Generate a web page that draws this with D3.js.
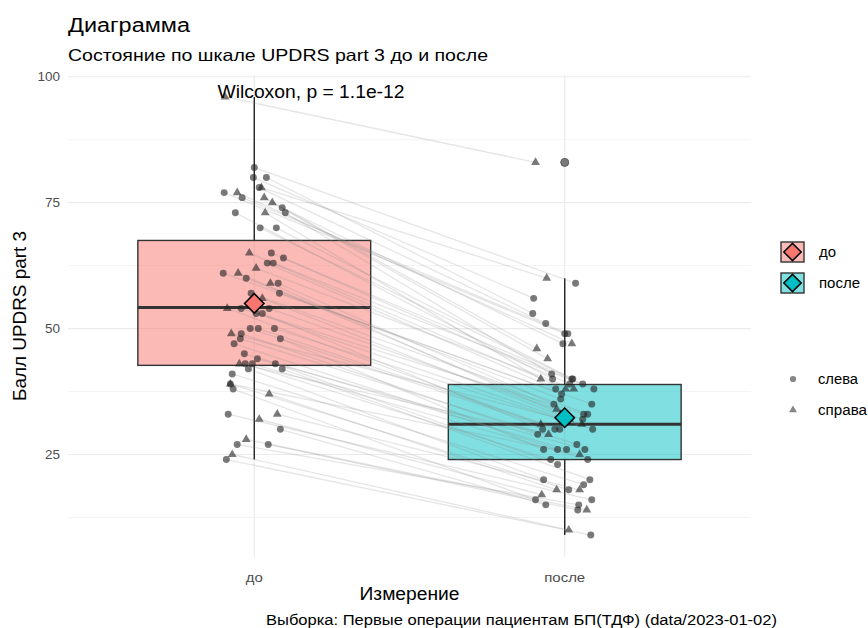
<!DOCTYPE html>
<html>
<head>
<meta charset="utf-8">
<script src="https://cdn.jsdelivr.net/npm/d3@7"></script>
<style>
  body { margin: 0; background: #fff; }
  text { font-family: "Liberation Sans", Arial, Helvetica, sans-serif; }
</style>
</head>
<body>
<div id="chart"></div>
<script>
// ---------- Data ----------
const measures = ["до", "после"];
const sideNames = ["слева", "справа"];
const fillColors = ["#F8766D", "#00BFC4"];

// one entry per patient: side, score before / after, observed jitter (category units)
const side = [
  "справа","справа","справа","справа","справа","справа","справа","справа","справа","справа",
  "справа","справа","справа","справа","справа","справа","справа","справа","справа","справа",
  "слева","слева","слева","слева","слева","слева","слева","слева","слева","слева",
  "слева","слева","слева","слева","слева","слева","слева","слева","слева","слева",
  "слева","слева","слева","слева","слева","слева","слева","слева","слева","слева",
  "слева","слева","слева","слева","слева","слева","слева","слева","слева","слева",
  "слева","слева","слева","слева","слева","слева"
];
const scoreBefore = [
  96, 78, 77, 76, 75, 73, 65, 62, 61, 59, 56, 54, 49, 43, 39, 37, 33, 32, 28, 25,
  82, 80, 80, 78, 77, 76, 74, 73, 73, 70, 70, 65, 64, 63, 63, 61, 60, 59, 57, 57,
  54, 54, 53, 53, 50, 50, 50, 49, 48, 48, 47, 45, 44, 43, 43, 43, 42, 42, 41, 39,
  38, 33, 30, 27, 27, 24
];
const scoreAfter = [
  83, 60, 47, 46, 44, 40, 38, 38, 34, 33, 32, 31, 31, 29, 25, 18, 18, 17, 14, 10,
  59, 56, 53, 51, 49, 49, 47, 41, 40, 40, 40, 39, 39, 38, 38, 37, 36, 35, 35, 33,
  33, 32, 32, 30, 30, 30, 30, 29, 27, 26, 26, 26, 26, 24, 24, 23, 20, 20, 19, 18,
  16, 16, 15, 15, 14, 9
];
const jitterBefore = [
  -0.094, 0.023, -0.055, 0.032, 0.058, 0.035, -0.016, 0.006, -0.052, 0.052,
  0.026, -0.087, -0.074, -0.048, -0.077, 0.048, 0.074, 0.016, -0.026, -0.071,
  0.000, -0.003, 0.039, 0.016, -0.097, -0.039, 0.090, 0.100, -0.061, 0.019,
  0.071, 0.055, 0.094, 0.042, 0.061, -0.100, -0.026, 0.077, 0.081, -0.010,
  -0.042, 0.048, 0.006, 0.026, -0.013, 0.013, 0.065, -0.042, -0.045, 0.084,
  -0.065, -0.032, 0.010, -0.029, -0.006, 0.068, -0.019, 0.090, -0.071, -0.077,
  -0.068, -0.084, 0.084, -0.055, 0.045, -0.090
];
const jitterAfter = [
  -0.094, -0.058, 0.023, -0.090, -0.055, -0.077, 0.003, 0.029, -0.026, -0.013,
  0.016, -0.077, 0.055, -0.052, 0.048, -0.026, 0.048, -0.074, 0.071, 0.013,
  0.035, -0.100, -0.103, -0.061, 0.000, 0.010, -0.006, -0.042, -0.039, 0.023,
  0.026, 0.058, 0.016, -0.029, 0.094, -0.010, -0.013, -0.035, 0.087, 0.074,
  0.061, 0.058, 0.003, -0.071, -0.032, -0.016, 0.090, -0.087, 0.039, -0.068,
  -0.023, 0.006, 0.065, -0.045, 0.074, -0.023, -0.068, 0.081, 0.061, 0.013,
  -0.094, 0.087, -0.061, 0.045, 0.042, 0.084
];

// box statistics
const boxLow    = [24, 9];
const boxQ1     = [42.7, 24];
const boxMedian = [54.2, 31];
const boxQ3     = [67.5, 38.9];
const boxHigh   = [96, 60];
const boxMean   = [55, 32.3];
const outliers  = [[], [83]];

const yTicks = [25, 50, 75, 100];
const yMinor = [12.5, 37.5, 62.5, 87.5];

// ---------- Layout ----------
const width = 868, height = 628;
const panel = { left: 68, right: 751, top: 75, bottom: 557 };

// the reference font sets Cyrillic wider than Liberation Sans: stretch to its widths
const stretch = (sel, len) => sel.attr("textLength", len).attr("lengthAdjust", "spacingAndGlyphs");
const cyrWidth = { "до": 17, "после": 41, "слева": 40, "справа": 49 };

const svg = d3.select("#chart").append("svg")
  .attr("width", width)
  .attr("height", height);

const x = d3.scalePoint()
  .domain(measures)
  .range([panel.left, panel.right])
  .padding(0.6);
const step = x.step();

const y = d3.scaleLinear()
  .domain([4.65, 100.35])
  .range([panel.bottom, panel.top]);

const fill = d3.scaleOrdinal().domain(measures).range(fillColors);
const shape = d3.scaleOrdinal().domain(sideNames).range([d3.symbolCircle, d3.symbolTriangle]);
const shapeSize = d3.scaleOrdinal().domain(sideNames).range([38, 34]);

// ---------- Grid ----------
const grid = svg.append("g");
grid.selectAll(".minor").data(yMinor).enter().append("line")
  .attr("x1", panel.left).attr("x2", panel.right)
  .attr("y1", d => y(d)).attr("y2", d => y(d))
  .attr("stroke", "#ebebeb").attr("stroke-width", 0.6);
grid.selectAll(".major").data(yTicks).enter().append("line")
  .attr("x1", panel.left).attr("x2", panel.right)
  .attr("y1", d => y(d)).attr("y2", d => y(d))
  .attr("stroke", "#ebebeb").attr("stroke-width", 1.2);
grid.selectAll(".vmajor").data(measures).enter().append("line")
  .attr("x1", d => x(d)).attr("x2", d => x(d))
  .attr("y1", panel.top).attr("y2", panel.bottom)
  .attr("stroke", "#ebebeb").attr("stroke-width", 1.2);

// ---------- Boxplots ----------
const boxW = step * 0.75;
const boxes = svg.append("g");
measures.forEach((m, i) => {
  const cx = x(m);
  const g = boxes.append("g");
  g.append("line")
    .attr("x1", cx).attr("x2", cx)
    .attr("y1", y(boxHigh[i])).attr("y2", y(boxQ3[i]))
    .attr("stroke", "#222").attr("stroke-width", 1.4);
  g.append("line")
    .attr("x1", cx).attr("x2", cx)
    .attr("y1", y(boxQ1[i])).attr("y2", y(boxLow[i]))
    .attr("stroke", "#222").attr("stroke-width", 1.4);
  g.append("rect")
    .attr("x", cx - boxW / 2).attr("width", boxW)
    .attr("y", y(boxQ3[i])).attr("height", y(boxQ1[i]) - y(boxQ3[i]))
    .attr("fill", fill(m)).attr("fill-opacity", 0.5)
    .attr("stroke", "#333").attr("stroke-width", 1.4);
  g.append("line")
    .attr("x1", cx - boxW / 2).attr("x2", cx + boxW / 2)
    .attr("y1", y(boxMedian[i])).attr("y2", y(boxMedian[i]))
    .attr("stroke", "#333").attr("stroke-width", 3);
  g.selectAll(".out").data(outliers[i]).enter().append("circle")
    .attr("cx", cx).attr("cy", d => y(d)).attr("r", 4)
    .attr("fill", "#7a7a7a").attr("stroke", "#5a5a5a").attr("stroke-width", 1);
});

// ---------- Paired lines ----------
const pairs = scoreBefore.map((v, i) => ({
  side: side[i],
  x0: x(measures[0]) + jitterBefore[i] * step,
  y0: y(v),
  x1: x(measures[1]) + jitterAfter[i] * step,
  y1: y(scoreAfter[i])
}));

svg.append("g").selectAll("line").data(pairs).enter().append("line")
  .attr("x1", d => d.x0).attr("y1", d => d.y0)
  .attr("x2", d => d.x1).attr("y2", d => d.y1)
  .attr("stroke", "#888").attr("stroke-opacity", 0.22).attr("stroke-width", 1.3);

// ---------- Points ----------
const pts = pairs.flatMap(d => [
  { side: d.side, x: d.x0, y: d.y0 },
  { side: d.side, x: d.x1, y: d.y1 }
]);
svg.append("g").selectAll("path").data(pts).enter().append("path")
  .attr("transform", d => `translate(${d.x},${d.y})`)
  .attr("d", d => d3.symbol(shape(d.side), shapeSize(d.side))())
  .attr("fill", "#222").attr("fill-opacity", 0.6);

// ---------- Means ----------
const diamond = d3.symbol(d3.symbolSquare, 190)();
svg.append("g").selectAll("path").data(measures).enter().append("path")
  .attr("transform", (d, i) => `translate(${x(d)},${y(boxMean[i])}) rotate(45)`)
  .attr("d", diamond)
  .attr("fill", d => fill(d))
  .attr("stroke", "#000").attr("stroke-width", 1.5);

// ---------- Axes text ----------
svg.append("g").selectAll("text").data(yTicks).enter().append("text")
  .attr("x", 60).attr("y", d => y(d)).attr("dy", "0.35em")
  .attr("text-anchor", "end").attr("fill", "#4d4d4d").attr("font-size", 13.5)
  .text(d => d);

svg.append("g").selectAll("text").data(measures).enter().append("text")
  .attr("x", d => x(d)).attr("y", 582)
  .attr("text-anchor", "middle").attr("fill", "#4d4d4d").attr("font-size", 13.5)
  .attr("textLength", d => cyrWidth[d]).attr("lengthAdjust", "spacingAndGlyphs")
  .text(d => d);

stretch(svg.append("text")
  .attr("x", (panel.left + panel.right) / 2).attr("y", 600)
  .attr("text-anchor", "middle").attr("font-size", 17.5)
  .text("Измерение"), 100);

stretch(svg.append("text")
  .attr("transform", `translate(26,${(panel.top + panel.bottom) / 2}) rotate(-90)`)
  .attr("text-anchor", "middle").attr("font-size", 17.5)
  .text("Балл UPDRS part 3"), 170);

// ---------- Titles ----------
stretch(svg.append("text").attr("x", 68).attr("y", 32).attr("font-size", 20)
  .text("Диаграмма"), 122);
stretch(svg.append("text").attr("x", 68).attr("y", 61).attr("font-size", 16.5)
  .text("Состояние по шкале UPDRS part 3 до и после"), 420);
stretch(svg.append("text").attr("x", 777).attr("y", 625).attr("text-anchor", "end").attr("font-size", 14)
  .text("Выборка: Первые операции пациентам БП(ТДФ) (data/2023-01-02)"), 511);

stretch(svg.append("text")
  .attr("x", 311).attr("y", 98).attr("text-anchor", "middle").attr("font-size", 18)
  .text("Wilcoxon, p = 1.1e-12"), 187);

// ---------- Legends ----------
const legFill = svg.append("g").attr("transform", "translate(781,242)");
measures.forEach((m, i) => {
  const g = legFill.append("g").attr("transform", `translate(0,${i * 31})`);
  g.append("rect").attr("width", 23).attr("height", 20)
    .attr("fill", fill(m)).attr("fill-opacity", 0.5)
    .attr("stroke", "#333").attr("stroke-width", 1.4);
  g.append("path").attr("transform", "translate(11.5,10) rotate(45)")
    .attr("d", d3.symbol(d3.symbolSquare, 150)())
    .attr("fill", fill(m)).attr("stroke", "#000").attr("stroke-width", 1.5);
  stretch(g.append("text").attr("x", 38).attr("y", 10).attr("dy", "0.35em")
    .attr("font-size", 14).text(m), cyrWidth[m]);
});

const legShape = svg.append("g").attr("transform", "translate(793,379)");
sideNames.forEach((s, i) => {
  const g = legShape.append("g").attr("transform", `translate(0,${i * 31})`);
  g.append("path").attr("d", d3.symbol(shape(s), shapeSize(s) * 0.8)())
    .attr("fill", "#222").attr("fill-opacity", 0.55);
  stretch(g.append("text").attr("x", 25).attr("dy", "0.35em")
    .attr("font-size", 14).text(s), cyrWidth[s]);
});
</script>
</body>
</html>
